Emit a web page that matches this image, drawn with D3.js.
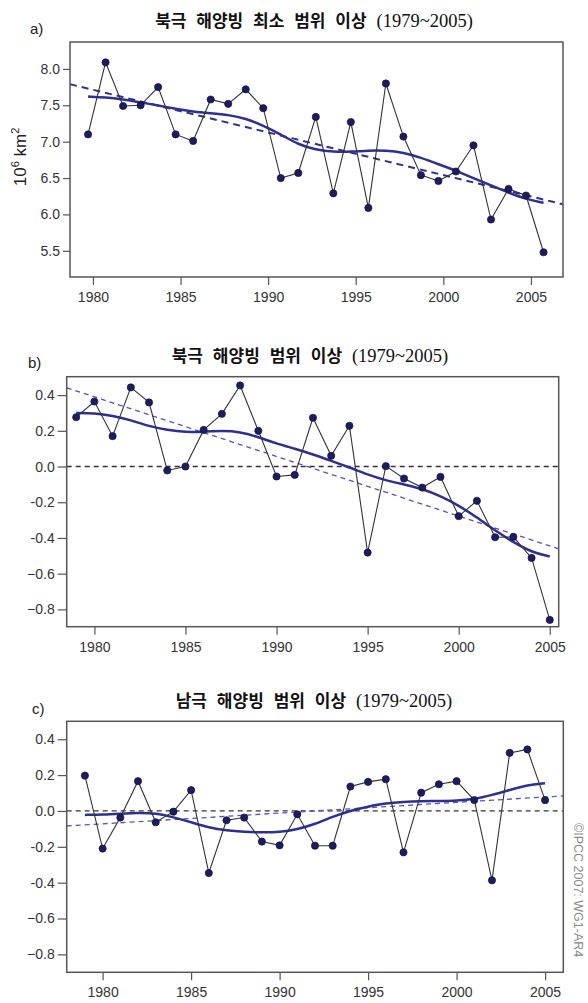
<!DOCTYPE html>
<html>
<head>
<meta charset="utf-8">
<script src="https://cdn.jsdelivr.net/npm/d3@7"></script>
<style>
  body { margin: 0; background: #fff; }
</style>
</head>
<body>
<div id="chart"></div>
<script>

//Data

const years = [1979, 1980, 1981, 1982, 1983, 1984, 1985, 1986, 1987, 1988, 1989, 1990, 1991,
  1992, 1993, 1994, 1995, 1996, 1997, 1998, 1999, 2000, 2001, 2002, 2003, 2004, 2005];

// a) Arctic minimum extent (10^6 km2)
const minExtent = [7.10, 8.09, 7.49, 7.50, 7.75, 7.10, 7.01, 7.58, 7.52, 7.72, 7.46, 6.50, 6.57,
  7.34, 6.29, 7.27, 6.09, 7.80, 7.07, 6.54, 6.46, 6.59, 6.95, 5.93, 6.35, 6.26, 5.48];
const minSmooth = [7.62, 7.61, 7.58, 7.54, 7.50, 7.45, 7.41, 7.39, 7.37, 7.32, 7.22, 7.10, 6.96,
  6.89, 6.86, 6.86, 6.88, 6.88, 6.85, 6.78, 6.69, 6.60, 6.50, 6.40, 6.30, 6.21, 6.16];
const minTrend = [[1978.69, 7.79], [2006.83, 6.14]];

// b) Arctic extent anomaly
const arcticAnom = [0.276, 0.364, 0.170, 0.443, 0.359, -0.022, 0.000, 0.205, 0.295, 0.454, 0.200, -0.056, -0.047,
  0.273, 0.060, 0.228, -0.482, 0.002, -0.067, -0.118, -0.058, -0.278, -0.192, -0.396, -0.394, -0.512, -0.859];
const arcticSmooth = [0.300, 0.300, 0.285, 0.260, 0.225, 0.205, 0.192, 0.195, 0.200, 0.195, 0.165, 0.128, 0.100,
  0.068, 0.032, -0.005, -0.045, -0.078, -0.100, -0.125, -0.165, -0.218, -0.285, -0.358, -0.424, -0.480, -0.504];
const arcticTrend = [[1978.48, 0.441], [2005.49, -0.461]];

// c) Antarctic extent anomaly
const antarcticAnom = [0.197, -0.210, -0.037, 0.166, -0.063, -0.004, 0.116, -0.346, -0.052, -0.037, -0.171, -0.192, -0.019,
  -0.194, -0.194, 0.136, 0.162, 0.177, -0.231, 0.102, 0.149, 0.166, 0.061, -0.387, 0.324, 0.343, 0.060];
const antarcticSmooth = [-0.022, -0.020, -0.015, -0.010, -0.012, -0.035, -0.063, -0.093, -0.110, -0.117, -0.120, -0.118, -0.103,
  -0.073, -0.032, 0.002, 0.024, 0.043, 0.050, 0.054, 0.056, 0.058, 0.065, 0.089, 0.117, 0.145, 0.155];
const antarcticTrend = [[1977.97, -0.084], [2006.03, 0.084]];

// tick labels
const xTicks = [1980, 1985, 1990, 1995, 2000, 2005];
const yTicksA = [5.5, 6.0, 6.5, 7.0, 7.5, 8.0];
const yTicksAnom = [-0.8, -0.6, -0.4, -0.2, 0.0, 0.2, 0.4];
const yTickLabelsAnom = ["\u22120.8", "\u22120.6", "-0.4", "-0.2", "0.0", "0.2", "0.4"];

const titles = ["북극 해양빙 최소 범위 이상", "북극 해양빙 범위 이상", "남극 해양빙 범위 이상"];
const titleYears = "(1979~2005)";

//Set up the svg

const W = 588, H = 1003;

const svg = d3.select("#chart")
  .append("svg")
    .attr("width", W)
    .attr("height", H);

const sansFont = "'Liberation Sans', Arial, sans-serif";

//Panel layout

const panels = [
  { id: "a", label: "a)", title: titles[0], values: minExtent, smooth: minSmooth, trend: minTrend,
    left: 70, right: 563, top: 42, bottom: 277,
    xDomain: [1978.69, 2006.83], yDomain: [5.14, 8.37], xOffset: 0.72,
    yTicks: yTicksA, yTickLabels: yTicksA.map(d => d.toFixed(1)), yTickSize: 7, yPad: 3,
    zeroLine: false, trendThick: true,
    labelPos: [30, 34], titlePos: [314, 27] },
  { id: "b", label: "b)", title: titles[1], values: arcticAnom, smooth: arcticSmooth, trend: arcticTrend,
    left: 66.7, right: 558.7, top: 376.7, bottom: 626.7,
    xDomain: [1978.48, 2005.49], yDomain: [-0.897, 0.503], xOffset: 0,
    yTicks: yTicksAnom, yTickLabels: yTickLabelsAnom, yTickSize: 9, yPad: 3,
    zeroLine: true, trendThick: false,
    labelPos: [28, 368], titlePos: [310, 362] },
  { id: "c", label: "c)", title: titles[2], values: antarcticAnom, smooth: antarcticSmooth, trend: antarcticTrend,
    left: 66.7, right: 563.3, top: 721.3, bottom: 972.3,
    xDomain: [1977.97, 2006.03], yDomain: [-0.9, 0.5], xOffset: 0,
    yTicks: yTicksAnom, yTickLabels: yTickLabelsAnom, yTickSize: 9, yPad: 3,
    zeroLine: true, trendThick: false,
    labelPos: [32, 714], titlePos: [314, 707] }
];

function drawPanel(p) {

  const x = d3.scaleLinear().domain(p.xDomain).range([p.left, p.right]);
  const y = d3.scaleLinear().domain(p.yDomain).range([p.bottom, p.top]);

  const g = svg.append("g").attr("class", "panel-" + p.id);

  // clip for the lines
  svg.append("clipPath")
    .attr("id", "clip-" + p.id)
    .append("rect")
      .attr("x", p.left)
      .attr("y", p.top)
      .attr("width", p.right - p.left)
      .attr("height", p.bottom - p.top);

  const plot = g.append("g").attr("clip-path", `url(#clip-${p.id})`);

  //zero line
  if (p.zeroLine) {
    plot.append("line")
      .attr("x1", x(p.xDomain[0]))
      .attr("x2", x(p.xDomain[1]))
      .attr("y1", y(0))
      .attr("y2", y(0))
      .attr("stroke", "#333")
      .attr("stroke-width", 1.3)
      .attr("stroke-dasharray", "5,4");
  }

  //linear trend
  plot.append("path")
    .datum(p.trend)
    .attr("fill", "none")
    .attr("stroke", p.trendThick ? "#30308f" : "#5a4fc4")
    .attr("stroke-width", p.trendThick ? 2 : 1.3)
    .attr("stroke-dasharray", p.trendThick ? "7,5" : "5,4")
    .attr("d", d3.line().x(d => x(d[0])).y(d => y(d[1])));

  //smoothed curve
  plot.append("path")
    .datum(years.map((yr, i) => [yr + p.xOffset, p.smooth[i]]))
    .attr("fill", "none")
    .attr("stroke", "#2f2f92")
    .attr("stroke-width", 2.5)
    .attr("d", d3.line().x(d => x(d[0])).y(d => y(d[1])).curve(d3.curveBasis));

  //annual values
  const pts = years.map((yr, i) => [yr + p.xOffset, p.values[i]]);

  plot.append("path")
    .datum(pts)
    .attr("fill", "none")
    .attr("stroke", "#333")
    .attr("stroke-width", 1.1)
    .attr("d", d3.line().x(d => x(d[0])).y(d => y(d[1])));

  g.append("g")
    .selectAll("circle")
    .data(pts)
    .join("circle")
      .attr("cx", d => x(d[0]))
      .attr("cy", d => y(d[1]))
      .attr("r", 3.6)
      .attr("fill", "#1c1c5e")
      .attr("stroke", "#12123f")
      .attr("stroke-width", 0.7);

  //x-axis
  g.append("g")
    .attr("transform", `translate(0,${p.bottom})`)
    .call(d3.axisBottom(x)
      .tickValues(xTicks)
      .tickFormat(d3.format("d"))
      .tickSize(8)
      .tickPadding(7))
    .call(a => a.select(".domain").remove())
    .call(a => a.selectAll(".tick line").attr("stroke", "#555").attr("stroke-width", 1.2))
    .call(a => a.selectAll(".tick text")
      .attr("fill", "#333")
      .style("font-size", "14px")
      .style("font-family", sansFont));

  //y-axis
  g.append("g")
    .attr("transform", `translate(${p.left},0)`)
    .call(d3.axisLeft(y)
      .tickValues(p.yTicks)
      .tickFormat((d, i) => p.yTickLabels[i])
      .tickSize(p.yTickSize)
      .tickPadding(p.yPad))
    .call(a => a.select(".domain").remove())
    .call(a => a.selectAll(".tick line").attr("stroke", "#555").attr("stroke-width", 1.2))
    .call(a => a.selectAll(".tick text")
      .attr("fill", "#333")
      .style("font-size", "14px")
      .style("font-family", sansFont));

  //frame
  g.append("rect")
    .attr("x", p.left)
    .attr("y", p.top)
    .attr("width", p.right - p.left)
    .attr("height", p.bottom - p.top)
    .attr("fill", "none")
    .attr("stroke", "#555")
    .attr("stroke-width", 1.5);

  //panel letter
  g.append("text")
    .attr("x", p.labelPos[0])
    .attr("y", p.labelPos[1])
    .style("font-size", "15px")
    .style("font-family", sansFont)
    .attr("fill", "#222")
    .text(p.label);

  //title
  const t = g.append("text")
    .attr("x", p.titlePos[0])
    .attr("y", p.titlePos[1])
    .attr("text-anchor", "middle")
    .style("font-size", "17px")
    .style("word-spacing", "6px")
    .attr("fill", "#111");
  t.append("tspan")
    .style("font-family", "'Noto Sans CJK KR', sans-serif")
    .style("font-weight", "bold")
    .text(p.title + " ");
  t.append("tspan")
    .style("font-family", "'Liberation Serif', 'Noto Sans CJK KR', serif")
    .style("font-size", "18.5px")
    .text(titleYears);
}

panels.forEach(drawPanel);

//Y-axis label for panel a

const yLab = svg.append("text")
  .attr("transform", "translate(26,157) rotate(-90)")
  .attr("text-anchor", "middle")
  .style("font-size", "17px")
  .style("font-family", sansFont)
  .attr("fill", "#222");
yLab.append("tspan").text("10");
yLab.append("tspan").attr("dy", -7).style("font-size", "11px").text("6");
yLab.append("tspan").attr("dy", 7).text(" km");
yLab.append("tspan").attr("dy", -7).style("font-size", "11px").text("2");

//Source credit

svg.append("text")
  .attr("transform", "translate(574,823) rotate(90)")
  .style("font-size", "12.5px")
  .style("font-family", sansFont)
  .attr("fill", "#8a8a8a")
  .text("©IPCC 2007: WG1-AR4");

</script>
</body>
</html>
